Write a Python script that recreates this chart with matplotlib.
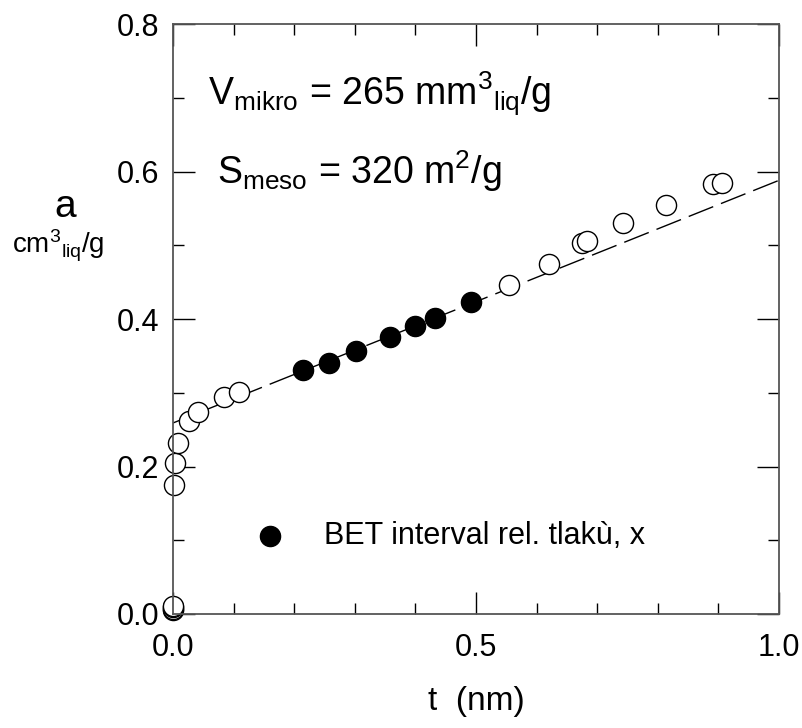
import numpy as np
import matplotlib.pyplot as plt
from matplotlib.ticker import MultipleLocator, FormatStrFormatter

plt.rcParams['font.family'] = ['Liberation Sans', 'DejaVu Sans']
plt.rcParams['mathtext.fontset'] = 'custom'
plt.rcParams['mathtext.rm'] = 'Liberation Sans'
plt.rcParams['mathtext.it'] = 'Liberation Sans'

# open circles (t-plot points outside the BET interval)
t_open = [0.0, 0.0, 0.0, 0.0, 0.002, 0.003, 0.008, 0.027, 0.041, 0.084, 0.109,
          0.555, 0.621, 0.675, 0.683, 0.743, 0.814, 0.891, 0.906]
a_open = [0.005, 0.007, 0.009, 0.011, 0.175, 0.205, 0.232, 0.262, 0.274, 0.294, 0.301,
          0.446, 0.475, 0.503, 0.506, 0.530, 0.555, 0.583, 0.585]

# filled circles (BET interval)
t_bet = [0.215, 0.257, 0.302, 0.358, 0.399, 0.432, 0.492]
a_bet = [0.331, 0.340, 0.356, 0.376, 0.391, 0.401, 0.423]

# linear fit line
fit_t = [0.0, 1.0]
fit_a = [0.259, 0.588]

fig = plt.figure(figsize=(8.03, 7.28), dpi=100)
ax = fig.add_axes([0.2154, 0.1566, 0.7546, 0.8104])

ax.plot(fit_t, fit_a, color='black', lw=1, linestyle=(0, (19, 6)), zorder=1)
ax.plot(t_open, a_open, 'o', ms=14.5, mfc='white', mec='black', mew=1, zorder=2,
        clip_on=False)
ax.plot(t_bet, a_bet, 'o', ms=14.5, mfc='black', mec='black', zorder=3)

ax.set_xlim(0, 1)
ax.set_ylim(0, 0.8)
ax.xaxis.set_major_locator(MultipleLocator(0.5))
ax.xaxis.set_minor_locator(MultipleLocator(0.1))
ax.yaxis.set_major_locator(MultipleLocator(0.2))
ax.yaxis.set_minor_locator(MultipleLocator(0.1))
ax.xaxis.set_major_formatter(FormatStrFormatter('%.1f'))
ax.yaxis.set_major_formatter(FormatStrFormatter('%.1f'))
ax.tick_params(which='both', direction='in', top=True, right=True,
               labelsize=22, color='black', pad=10)
ax.tick_params(axis='x', which='major', pad=14)
ax.tick_params(which='major', length=16, width=1)
ax.tick_params(which='minor', length=8, width=1)
for s in ax.spines.values():
    s.set_color('#555555')
    s.set_linewidth(1.3)

ax.text(0.058, 0.705, r'V$_{\mathrm{mikro}}$ = 265 mm$^{3}{}_{\mathrm{liq}}$/g',
        fontsize=27, va='center', ha='left')
ax.text(0.072, 0.600, r'S$_{\mathrm{meso}}$ = 320 m$^{2}$/g',
        fontsize=27, va='center', ha='left')

ax.plot([0.16], [0.106], 'o', ms=14.5, mfc='black', mec='black')
ax.text(0.25, 0.106, 'BET interval rel. tlakù, x', fontsize=22,
        va='center', ha='left')

fig.text(0.081, 0.715, 'a', fontsize=28, ha='center', va='center')
fig.text(0.073, 0.662, r'cm$^{3}{}_{\mathrm{liq}}$/g', fontsize=20,
         ha='center', va='center')
fig.text(0.593, 0.036, 't  (nm)', fontsize=24, ha='center', va='center')

fig.savefig('out.png', dpi=100)
